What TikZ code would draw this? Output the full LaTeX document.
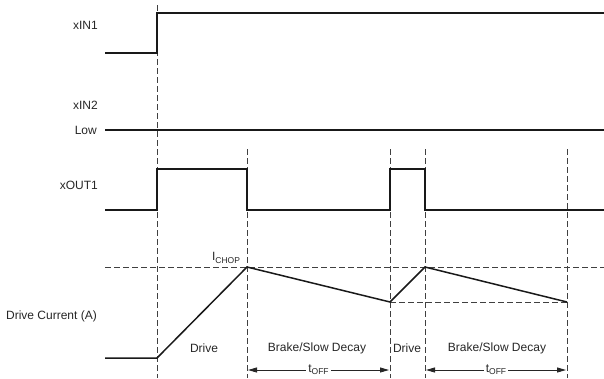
\documentclass[tikz,border=0pt]{standalone}
\usepackage{fontspec}
\setmainfont{Liberation Sans}
\usetikzlibrary{arrows.meta}
\newcommand{\subtxt}[2]{#1\raisebox{-2.2pt}{\fontsize{8.5}{9}\selectfont #2}}
\begin{document}
\begin{tikzpicture}[x=1pt,y=-1pt,
  sig/.style={line width=1.7pt, line join=miter, black!90},
  guide/.style={line width=0.8pt, dash pattern=on 5.5pt off 3.5pt, black!75},
  lbl/.style={font=\fontsize{12}{14}\selectfont, inner sep=0pt, text=black!85},
  toff/.style={line width=0.9pt, black!85, {Triangle[length=9pt,width=5pt]}-{Triangle[length=9pt,width=5pt]}}]
\useasboundingbox (0,0) rectangle (604,378);
% signal labels
\node[lbl, anchor=east] (lin1) at (98,25) {xIN1};
\node[lbl, anchor=east] (lin2) at (98,105) {xIN2};
\node[lbl, anchor=east] (llow) at (97,130) {Low};
\node[lbl, anchor=east] (lout) at (98,185) {xOUT1};
\node[lbl, anchor=east] (lcur) at (97,316) {Drive Current (A)};
% guide lines
\draw[guide] (157,5) -- (157,378);
\draw[guide] (247,149) -- (247,378);
\draw[guide] (390,149) -- (390,378);
\draw[guide] (425,149) -- (425,378);
\draw[guide] (567,149) -- (567,378);
\draw[guide] (105,267) -- (604,267);
\draw[guide] (390,302) -- (567,302);
% signals
\draw[sig] (105,53) -- (157,53) -- (157,13) -- (604,13);
\draw[sig] (105,130) -- (604,130);
\draw[sig] (105,210) -- (157,210) -- (157,169) -- (247,169) -- (247,210) -- (390,210) -- (390,169) -- (425,169) -- (425,210) -- (604,210);
\draw[sig, line width=1.5pt] (105,358) -- (157,358) -- (247,267) -- (390,302) -- (425,267) -- (567,302);
% annotations
\node[lbl] (ichop) at (226,258) {\subtxt{I}{CHOP}};
\node[lbl] (d1) at (204,348) {Drive};
\node[lbl] (b1) at (317,348) {Brake/Slow Decay};
\node[lbl] (d2) at (407,348) {Drive};
\node[lbl] (b2) at (497,348) {Brake/Slow Decay};
\draw[toff] (248,370) -- node[lbl, fill=white, inner xsep=2pt, inner ysep=1pt] (t1) {\subtxt{t}{OFF}} (389,370);
\draw[toff] (426,370) -- node[lbl, fill=white, inner xsep=2pt, inner ysep=1pt] (t2) {\subtxt{t}{OFF}} (566,370);
\end{tikzpicture}
\end{document}
